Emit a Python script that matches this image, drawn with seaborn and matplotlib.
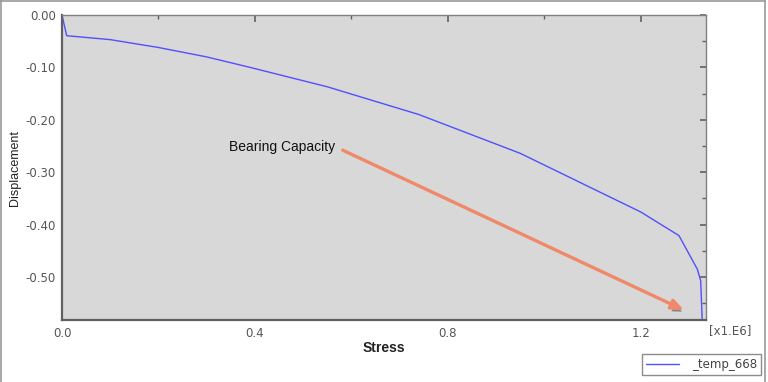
import numpy as np
import pandas as pd
import matplotlib
matplotlib.use("Agg")
import matplotlib.pyplot as plt
import matplotlib.patheffects as pe
from matplotlib.lines import Line2D
from matplotlib.ticker import MultipleLocator, FormatStrFormatter
import seaborn as sns

# stress in units of 1e6, displacement
stress = [0.0, 0.0097, 0.10, 0.20, 0.30, 0.39, 0.55, 0.74, 0.95, 1.20, 1.279, 1.317, 1.324, 1.330]
displacement = [0.0, -0.0395, -0.047, -0.062, -0.080, -0.100, -0.137, -0.190, -0.264, -0.376, -0.421, -0.485, -0.507, -0.65]
series_name = "_temp_668"
x_ticks = [0.0, 0.4, 0.8, 1.2]
y_ticks = [0.0, -0.1, -0.2, -0.3, -0.4, -0.5]

df = pd.DataFrame({"Stress": stress, "Displacement": displacement})

sns.set_style("white")
plt.rcParams["font.family"] = ["DejaVu Sans"]

fig = plt.figure(figsize=(7.68, 3.82), dpi=100)
ax = fig.add_axes([62 / 768, 1 - 320 / 382, (706 - 62) / 768, (320 - 15) / 382])
ax.set_facecolor("#d8d8d8")

line_color = "#5050ff"
sns.lineplot(data=df, x="Stress", y="Displacement", sort=False, estimator=None,
             color=line_color, lw=1.0, ax=ax, legend=False)

ax.set_xlim(0, 1.335)
ax.set_ylim(-0.582, 0)
ax.set_xticks(x_ticks)
ax.set_yticks(y_ticks)
ax.xaxis.set_minor_locator(MultipleLocator(0.2))
ax.yaxis.set_minor_locator(MultipleLocator(0.05))
ax.xaxis.set_major_formatter(FormatStrFormatter("%.1f"))
ax.yaxis.set_major_formatter(FormatStrFormatter("%.2f"))

spine_col = "#606060"
for side in ["left", "bottom"]:
    ax.spines[side].set_color(spine_col)
    ax.spines[side].set_linewidth(1.6)
for side in ["right", "top"]:
    ax.spines[side].set_color("#808080")
    ax.spines[side].set_linewidth(1.0)

ax.tick_params(axis="both", which="both", colors=spine_col, labelcolor="#555555",
               labelsize=8.5, top=True, right=True)
ax.tick_params(axis="y", which="major", direction="inout", length=7, width=1.2, pad=1)
ax.tick_params(axis="x", which="major", direction="in", length=5, width=1.2, pad=5)
ax.tick_params(axis="both", which="minor", direction="in", length=3, width=1.0)
# right spine ticks only point inward
for t in ax.yaxis.get_major_ticks():
    t.tick2line.set_marker(matplotlib.lines.TICKLEFT)
    t.tick2line.set_markersize(4)

ax.set_xlabel("Stress", family=["Liberation Sans"], fontsize=10, fontweight="bold", color="#222222", labelpad=1)
ax.set_ylabel("Displacement", family=["Liberation Sans"], fontsize=9, color="#222222", labelpad=3)
ax.text(1.0 + 3 / 644, -0.012, "[x1.E6]", transform=ax.transAxes, fontsize=8.5,
        color="#555555", ha="left", va="top")

# bearing capacity annotation with shadowed arrow
ax.text(0.346, -0.252, "Bearing Capacity", family=["Liberation Sans"], fontsize=10,
        color="#111111", ha="left", va="center")
ann = ax.annotate("", xy=(1.289, -0.563), xytext=(0.582, -0.258),
                  arrowprops=dict(arrowstyle="-|>,head_length=0.7,head_width=0.3",
                                  color="#f0886a", lw=2.4, shrinkA=0, shrinkB=0))
ann.arrow_patch.set_path_effects([pe.SimplePatchShadow(offset=(1.5, -2.5), shadow_rgbFace="#666666", alpha=0.7),
                                  pe.Normal()])

# legend (label starting with "_" is set after creation)
handle = Line2D([], [], color=line_color, lw=1.0)
leg = fig.legend(handles=[handle], labels=["temp_668"], loc="lower right",
                 bbox_to_anchor=(761 / 768, 7 / 382), fancybox=False, fontsize=8.5,
                 handlelength=2.8, handletextpad=1.1, borderpad=0.35, borderaxespad=0)
leg.get_texts()[0].set_text(series_name)
leg.get_texts()[0].set_color("#444444")
leg.get_frame().set_edgecolor("#707070")
leg.get_frame().set_linewidth(1.0)

# outer frame of the window
for xs, ys in [([0.5 / 768, 0.5 / 768], [0, 1]), ([0, 765 / 768], [1 - 0.5 / 382, 1 - 0.5 / 382]),
               ([765 / 768, 765 / 768], [0, 1])]:
    fig.add_artist(Line2D(xs, ys, color="#999999", lw=1.2, transform=fig.transFigure))

fig.savefig("out.png", dpi=100)
